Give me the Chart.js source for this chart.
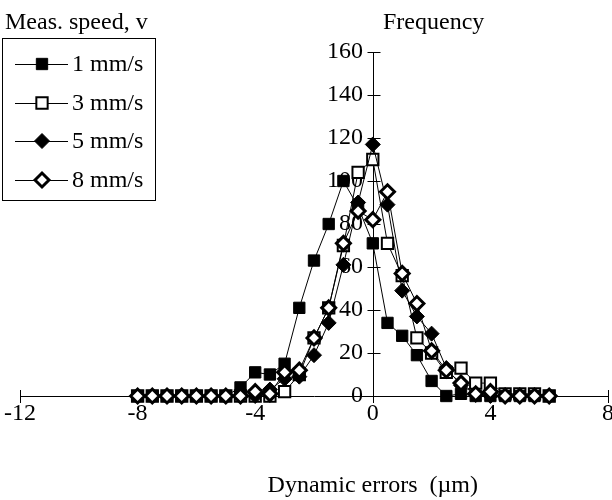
<!DOCTYPE html>
<html>
<head>
<meta charset="utf-8">
<script src="https://cdn.jsdelivr.net/npm/chart.js@4/dist/chart.umd.min.js"></script>
<style>
  html, body { margin: 0; padding: 0; background: #fff; }
  #wrap { width: 612px; height: 500px; }
</style>
</head>
<body>
<div id="wrap"><canvas id="c" width="612" height="500"></canvas></div>
<script>
// Dynamic error values (µm) – category positions
const errors = [-8, -7.5, -7, -6.5, -6, -5.5, -5, -4.5, -4, -3.5, -3, -2.5, -2, -1.5, -1, -0.5, 0, 0.5, 1, 1.5, 2, 2.5, 3, 3.5, 4, 4.5, 5, 5.5, 6];
// Frequencies per measuring speed
const speed1 = [0, 0, 0, 0, 0, 0, 0, 4, 11, 10, 15, 41, 63, 80, 100, 88, 71, 34, 28, 19, 7, 0, 1, 0, 0, 0, 0, 0, 0];
const speed3 = [0, 0, 0, 0, 0, 0, 0, 0, 0, 0, 2, 10, 27, 41, 70, 104, 110, 71, 56, 27, 20, 11, 13, 6, 6, 1, 1, 1, 0];
const speed5 = [0, 0, 0, 0, 0, 0, 0, 0, 0, 3, 8, 9, 19, 34, 61, 90, 117, 89, 49, 37, 29, 13, 5, 1, 0, 0, 0, 0, 0];
const speed8 = [0, 0, 0, 0, 0, 0, 0, 0, 2, 1, 11, 12, 27, 41, 71, 86, 82, 95, 57, 43, 21, 12, 6, 1, 2, 0, 0, 0, 0];
const seriesLabels = ['1 mm/s', '3 mm/s', '5 mm/s', '8 mm/s'];
const xTickValues = [-12, -8, -4, 0, 4, 8];
const yTickValues = [0, 20, 40, 60, 80, 100, 120, 140, 160];
const legendTitle = 'Meas. speed, v';
const yTitle = 'Frequency';
const xTitle = 'Dynamic errors  (\u00b5m)';

const FONT = '"Liberation Serif", "Times New Roman", serif';
const toPts = arr => arr.map((v, i) => ({ x: errors[i], y: v }));

const styles = [
  { pointStyle: 'rect',    radius: 8,   bg: '#000', border: '#000', bw: 1,   order: 3 },
  { pointStyle: 'rect',    radius: 8,   bg: '#fff', border: '#000', bw: 2,   order: 4 },
  { pointStyle: 'rectRot', radius: 7.5, bg: '#000', border: '#000', bw: 1,   order: 2 },
  { pointStyle: 'rectRot', radius: 7,   bg: '#fff', border: '#000', bw: 3,   order: 1 }
];
const values = [speed1, speed3, speed5, speed8];

const datasets = values.map((vals, i) => ({
  label: seriesLabels[i],
  data: toPts(vals),
  borderColor: '#000',
  borderWidth: 1,
  pointStyle: styles[i].pointStyle,
  pointRadius: styles[i].radius,
  pointBackgroundColor: styles[i].bg,
  pointBorderColor: styles[i].border,
  pointBorderWidth: styles[i].bw,
  pointHoverRadius: styles[i].radius,
  fill: false,
  tension: 0,
  clip: false,
  order: styles[i].order
}));

function drawMarker(ctx, st, x, y) {
  ctx.save();
  ctx.fillStyle = st.bg;
  ctx.strokeStyle = st.border;
  ctx.lineWidth = st.bw;
  ctx.beginPath();
  if (st.pointStyle === 'rect') {
    const s = Math.SQRT1_2 * st.radius;
    ctx.rect(x - s, y - s, 2 * s, 2 * s);
  } else {
    const r = st.radius;
    ctx.moveTo(x - r, y);
    ctx.lineTo(x, y - r);
    ctx.lineTo(x + r, y);
    ctx.lineTo(x, y + r);
    ctx.closePath();
  }
  ctx.fill();
  ctx.stroke();
  ctx.restore();
}

const decor = {
  id: 'decor',
  beforeDatasetsDraw(chart) {
    const { ctx, scales: { x, y } } = chart;
    const x0 = Math.round(x.getPixelForValue(0)) + 0.5;
    const y0 = y.getPixelForValue(0);
    ctx.save();
    ctx.strokeStyle = '#000';
    ctx.lineWidth = 1;
    ctx.beginPath();
    ctx.moveTo(x0, y.getPixelForValue(160));
    ctx.lineTo(x0, y0 + 7);
    ctx.stroke();
    yTickValues.forEach(v => {
      const py = Math.round(y.getPixelForValue(v)) + 0.5;
      ctx.beginPath();
      ctx.moveTo(x0 - 6, py);
      ctx.lineTo(x0 + 7, py);
      ctx.stroke();
    });
    xTickValues.forEach(v => {
      const px = Math.round(x.getPixelForValue(v)) + 0.5;
      ctx.beginPath();
      ctx.moveTo(px, y0 - 6);
      ctx.lineTo(px, y0 + 7);
      ctx.stroke();
    });
    ctx.restore();
  },
  afterDraw(chart) {
    const { ctx, scales: { x } } = chart;
    ctx.save();
    ctx.fillStyle = '#000';
    ctx.font = '24px ' + FONT;
    ctx.textBaseline = 'alphabetic';
    ctx.textAlign = 'left';
    ctx.fillText(legendTitle, 5, 29);
    ctx.fillText(yTitle, 383, 29);
    ctx.textAlign = 'center';
    ctx.fillText(xTitle, x.getPixelForValue(0), 492);

    ctx.strokeStyle = '#000';
    ctx.lineWidth = 1;
    ctx.strokeRect(2.5, 38.5, 153, 162);
    const rows = [64, 103, 141, 180];
    ctx.textAlign = 'left';
    ctx.textBaseline = 'middle';
    rows.forEach((ry, i) => {
      ctx.beginPath();
      ctx.moveTo(15, ry + 0.5);
      ctx.lineTo(68, ry + 0.5);
      ctx.stroke();
      drawMarker(ctx, styles[i], 42, ry);
      ctx.fillStyle = '#000';
      ctx.fillText(seriesLabels[i], 72, ry + 1);
    });
    ctx.restore();
  }
};

const zeroPad = () => ({ left: 0, right: 0, top: 0, bottom: 0 });

new Chart(document.getElementById('c'), {
  type: 'line',
  data: { datasets },
  options: {
    responsive: false,
    animation: false,
    devicePixelRatio: 1,
    layout: { autoPadding: false, padding: { left: 20, right: 4, top: 52, bottom: 0 } },
    plugins: { legend: { display: false }, tooltip: { enabled: false }, title: { display: false } },
    scales: {
      x: {
        type: 'linear',
        position: 'bottom',
        min: -12,
        max: 8,
        afterBuildTicks: s => { s.ticks = xTickValues.map(v => ({ value: v })); },
        afterFit: s => {
          s.height = 104;
          s.paddingLeft = 0;
          s.paddingRight = 0;
          if (s._margins) { s._margins.left = 0; s._margins.right = 0; }
          s.getPadding = zeroPad;
        },
        grid: { display: false, drawTicks: false },
        border: { display: true, color: '#000', width: 1 },
        ticks: { color: '#000', font: { family: FONT, size: 24 }, padding: 3, maxRotation: 0, autoSkip: false },
        title: { display: false }
      },
      y: {
        type: 'linear',
        position: { x: -0.33 },
        min: 0,
        max: 160,
        afterBuildTicks: s => { s.ticks = yTickValues.map(v => ({ value: v })); },
        afterFit: s => {
          s.width = 0;
          s.paddingLeft = 0;
          s.paddingRight = 0;
          s.getPadding = zeroPad;
        },
        grid: { display: false, drawTicks: false },
        border: { display: false },
        ticks: { color: '#000', font: { family: FONT, size: 24 }, padding: 0 },
        title: { display: false }
      }
    }
  },
  plugins: [decor]
});
</script>
</body>
</html>
